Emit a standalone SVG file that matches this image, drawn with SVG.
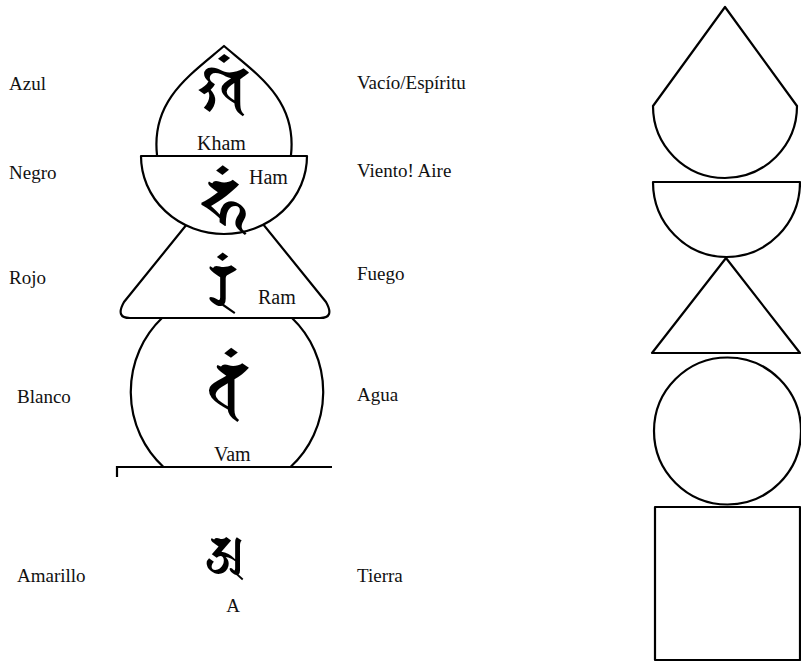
<svg xmlns="http://www.w3.org/2000/svg" width="801" height="662" viewBox="0 0 801 662">
<style>
.s{fill:#fff;stroke:#000;stroke-width:2.2;stroke-linejoin:round}
.n{fill:none;stroke:#000;stroke-width:2.2}
.lab{font-family:"Liberation Serif",serif;font-size:19px;fill:#111}
.in{font-family:"Liberation Serif",serif;font-size:20px;fill:#111}
.gl{font-family:"Noto Sans","DejaVu Sans",sans-serif;fill:#000;text-anchor:middle}
</style>
<rect width="801" height="662" fill="#fff"/>
<g id="left-stupa">
  <g id="agua-circle">
    <path class="n" d="M162,318 A96,100 0 0 0 163.5,467 M290.5,467 A96,100 0 0 0 292,318"/>
  </g>
  <g id="fuego-trapezoid">
    <path class="s" d="M200,208 L124,302 Q115,318 130,318 L320,318 Q335,318 326,302 L250,208 Z"/>
  </g>
  <g id="viento-bowl">
    <path class="s" d="M141,156 L307,156 A83,78 0 0 1 141,156 Z"/>
  </g>
  <g id="vacio-drop">
    <path class="s" d="M157,155 C151,100 190,75 224,46 C258,75 297,100 291,155"/>
  </g>
  <g id="ground">
    <path class="n" d="M117,477 L117,467 L332,467" stroke-width="2.5"/>
  </g>
  <g id="seeds">
    <text class="gl" x="223" y="113" font-size="66">𑖏𑖽</text>
    <text class="gl" x="224" y="228" font-size="70">𑖮𑖽</text>
    <text class="gl" x="222" y="308" font-size="62">𑖨𑖽</text>
    <text class="gl" x="228" y="414" font-size="74">𑖪𑖽</text>
    <text class="gl" x="225" y="574" font-size="54">𑖀</text>
  </g>
  <g id="seed-labels">
    <text class="in" x="197" y="150" font-size="21">Kham</text>
    <text class="in" x="249" y="184">Ham</text>
    <text class="in" x="258" y="304">Ram</text>
    <text class="in" x="214" y="461" font-size="19">Vam</text>
    <text class="lab" x="233" y="612" text-anchor="middle" font-size="18">A</text>
  </g>
</g>
<g id="colour-labels">
  <text class="lab" x="9" y="90">Azul</text>
  <text class="lab" x="9" y="179">Negro</text>
  <text class="lab" x="9" y="284">Rojo</text>
  <text class="lab" x="17" y="403">Blanco</text>
  <text class="lab" x="17" y="582">Amarillo</text>
</g>
<g id="element-labels">
  <text class="lab" x="357" y="89">Vacío/Espíritu</text>
  <text class="lab" x="357" y="177">Viento! Aire</text>
  <text class="lab" x="357" y="280">Fuego</text>
  <text class="lab" x="357" y="401">Agua</text>
  <text class="lab" x="357" y="582">Tierra</text>
</g>
<g id="right-stupa">
  <g id="r-drop"><path class="s" d="M653,106 L725,7 L797,106 A72,72 0 0 1 653,106 Z"/></g>
  <g id="r-bowl"><path class="s" d="M653,182 L800,182 A73.5,75 0 0 1 653,182 Z"/></g>
  <g id="r-triangle"><path class="s" d="M726,258 L800,353 L652,353 Z"/></g>
  <g id="r-circle"><circle class="s" cx="727.5" cy="431" r="73.5"/></g>
  <g id="r-square"><rect class="s" x="655" y="507" width="145" height="153"/></g>
</g>
</svg>
